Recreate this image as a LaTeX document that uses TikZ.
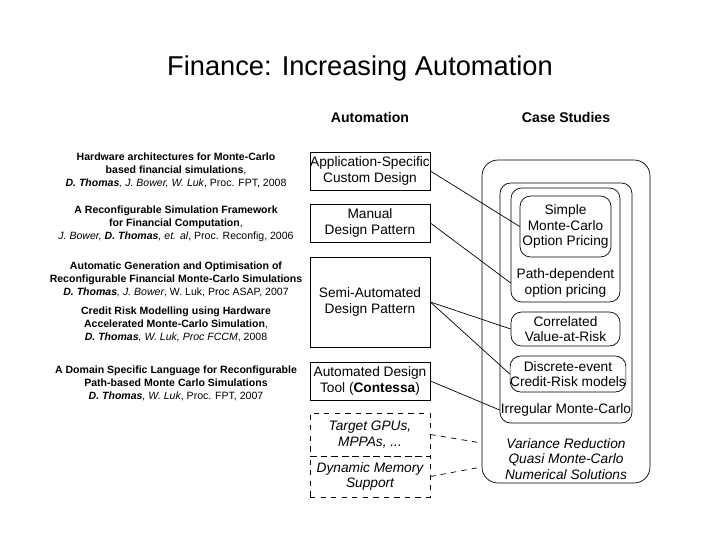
\documentclass[tikz,border=0pt]{standalone}
\usepackage{fontspec}
\setmainfont{Liberation Sans}
\begin{document}
\begin{tikzpicture}[
  x=0.02cm, y=-0.02cm,
  box/.style={rectangle, draw, inner sep=0pt, align=center, font=\fontsize{7.8}{8.8}\selectfont},
  dbox/.style={box, dashed, font=\fontsize{7.8}{8.8}\selectfont\itshape},
  case/.style={rectangle, rounded corners=6pt, draw, inner sep=0pt, align=center, font=\fontsize{7.8}{8.8}\selectfont},
  ref/.style={align=center, font=\fontsize{6}{7.4}\selectfont},
  head/.style={font=\fontsize{8}{9}\selectfont\bfseries}
]
\useasboundingbox (0,0) rectangle (720,540);
\node[font=\fontsize{15.5}{18}\selectfont] (title) at (360,68) {Finance: Increasing Automation};
\node[head] (hauto) at (370,117) {Automation};
\node[head] (hcase) at (566,117) {Case Studies};

% automation levels
\node[box, minimum width=2.4cm, minimum height=0.76cm] (asic) at (370,171) {Application-Specific\\Custom Design};
\node[box, minimum width=2.4cm, minimum height=0.76cm] (manual) at (370,223) {Manual\\Design Pattern};
\node[box, minimum width=2.4cm, minimum height=1.8cm] (semi) at (370,302) {Semi-Automated\\Design Pattern};
\node[box, minimum width=2.4cm, minimum height=0.76cm] (tool) at (370,381) {Automated Design\\Tool (\textbf{Contessa})};
\node[dbox, minimum width=2.4cm, minimum height=0.86cm] (gpu) at (370,434.5) {Target GPUs,\\MPPAs, ...};
\node[dbox, minimum width=2.4cm, minimum height=0.82cm] (dyn) at (370,476.5) {Dynamic Memory\\Support};

% papers
\node[ref] (p1) at (176,170) {\textbf{Hardware architectures for Monte-Carlo}\\\textbf{based financial simulations},\\\textit{\textbf{D. Thomas}, J. Bower, W. Luk}, Proc. FPT, 2008};
\node[ref] (p2) at (176,224) {\textbf{A Reconfigurable Simulation Framework}\\\textbf{for Financial Computation},\\\textit{J. Bower, \textbf{D. Thomas}, et. al}, Proc. Reconfig, 2006};
\node[ref] (p3) at (176,279) {\textbf{Automatic Generation and Optimisation of}\\\textbf{Reconfigurable Financial Monte-Carlo Simulations}\\\textit{\textbf{D. Thomas}, J. Bower}, W. Luk, Proc ASAP, 2007};
\node[ref] (p4) at (176,324) {\textbf{Credit Risk Modelling using Hardware}\\\textbf{Accelerated Monte-Carlo Simulation},\\\textit{\textbf{D. Thomas}, W. Luk, Proc FCCM}, 2008};
\node[ref] (p5) at (176,383) {\textbf{A Domain Specific Language for Reconfigurable}\\\textbf{Path-based Monte Carlo Simulations}\\\textit{\textbf{D. Thomas}, W. Luk}, Proc. FPT, 2007};

% case studies
\node[case, rounded corners=9pt, minimum width=3.36cm, minimum height=6.46cm] (outer) at (566,321.5) {};
\node[case, minimum width=2.64cm, minimum height=4.8cm] (irreg) at (566,303) {};
\node[case, minimum width=2.18cm, minimum height=2.28cm] (path) at (565.5,245) {};
\node[case, minimum width=1.82cm, minimum height=1.22cm] (simple) at (565.5,226.5) {Simple\\Monte-Carlo\\Option Pricing};
\node[case, minimum width=2.18cm, minimum height=0.68cm] (corr) at (565.5,329) {Correlated\\Value-at-Risk};
\node[case, minimum width=2.28cm, minimum height=0.72cm] (disc) at (568,374) {Discrete-event\\Credit-Risk models};
\node[font=\fontsize{7.8}{8.8}\selectfont] (lirreg) at (566,410) {Irregular Monte-Carlo};
\node[align=center, font=\fontsize{7.8}{8.8}\selectfont] (lpath) at (565.5,283) {Path-dependent\\option pricing};
\node[align=center, font=\fontsize{7.8}{8.8}\selectfont\itshape] (lother) at (566,459) {Variance Reduction\\Quasi Monte-Carlo\\Numerical Solutions};

\draw (asic.east) -- (simple.west);
\draw (manual.east) -- (path.west |- lpath);
\draw (semi.east) -- (corr.west);
\draw (semi.east) -- (disc.west);
\draw (tool.east) -- (irreg.west |- lirreg);
\draw[dashed] (gpu.east) -- (outer.west |- 0,443);
\draw[dashed] (dyn.east) -- (outer.west |- 0,467);
\end{tikzpicture}
\end{document}
